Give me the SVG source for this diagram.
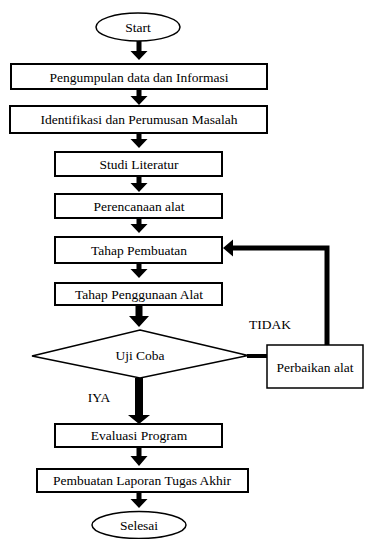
<svg xmlns="http://www.w3.org/2000/svg" width="365" height="539" viewBox="0 0 365 539">
<style>
.box{fill:#fff;stroke:#000;stroke-width:2}
.term{fill:#fff;stroke:#000;stroke-width:1.5}
.t{font-family:'Liberation Serif','Times New Roman',serif;font-size:13.5px;fill:#000;text-anchor:middle;dominant-baseline:central}
.arr{fill:#000}
</style>
<rect width="365" height="539" fill="#fff"/>
<g id="connectors" class="arr">
<path d="M136.5 41 h5 v10 h6 l-8.5 9 l-8.5 -9 h6 z"/>
<path d="M136.5 89 h5 v7 h6 l-8.5 9 l-8.5 -9 h6 z"/>
<path d="M136.5 133 h5 v6 h6 l-8.5 9 l-8.5 -9 h6 z"/>
<path d="M136.5 176 h5 v7 h6 l-8.5 9 l-8.5 -9 h6 z"/>
<path d="M136.5 218 h5 v6 h6 l-8.5 9 l-8.5 -9 h6 z"/>
<path d="M136.5 263 h5 v6 h6 l-8.5 9 l-8.5 -9 h6 z"/>
<path d="M135.5 305 h7 v11 h6.5 l-10 11 l-10 -11 h6.5 z"/>
<path d="M135 378 h8 v37 h7 l-11 9 l-11 -9 h7 z"/>
<path d="M136.5 447 h5 v9 h6 l-8.5 10 l-8.5 -10 h6 z"/>
<path d="M136.5 492 h5 v7 h6 l-8.5 9 l-8.5 -9 h6 z"/>
<rect x="247" y="354" width="21" height="4"/>
<path d="M329.5 345 h-5 v-94.5 h-91.5 v6 l-10 -8.5 l10 -8.5 v6 h96.5 z"/>
</g>
<g id="start"><ellipse class="term" cx="138" cy="27" rx="42" ry="14"/><text class="t" x="138" y="27" font-family="Liberation Serif">Start</text></g>
<g id="n1"><rect class="box" x="11" y="64" width="256" height="25"/><text class="t" x="139" y="77" font-family="Liberation Serif">Pengumpulan data dan Informasi</text></g>
<g id="n2"><rect class="box" x="10" y="106" width="257" height="27"/><text class="t" x="139" y="119.5" font-family="Liberation Serif">Identifikasi dan Perumusan Masalah</text></g>
<g id="n3"><rect class="box" x="55" y="152" width="167" height="24"/><text class="t" x="139" y="164" font-family="Liberation Serif">Studi Literatur</text></g>
<g id="n4"><rect class="box" x="55" y="194" width="167" height="24"/><text class="t" x="139" y="206" font-family="Liberation Serif">Perencanaan alat</text></g>
<g id="n5"><rect class="box" x="55" y="237" width="167" height="26"/><text class="t" x="139" y="250" font-family="Liberation Serif">Tahap Pembuatan</text></g>
<g id="n6"><rect class="box" x="55" y="283" width="167" height="22"/><text class="t" x="139" y="294" font-family="Liberation Serif">Tahap Penggunaan Alat</text></g>
<g id="decision"><polygon class="term" points="140,330 248,355.5 140,378 32,356"/><text class="t" x="140" y="355" font-family="Liberation Serif">Uji Coba</text></g>
<g id="fix"><rect class="term" x="267" y="345" width="96" height="43"/><text class="t" x="315" y="367" font-family="Liberation Serif">Perbaikan alat</text></g>
<text class="t" x="270" y="324" font-family="Liberation Serif">TIDAK</text>
<text class="t" x="99" y="397" font-family="Liberation Serif">IYA</text>
<g id="n7"><rect class="box" x="55" y="424" width="167" height="23"/><text class="t" x="139" y="435.5" font-family="Liberation Serif">Evaluasi Program</text></g>
<g id="n8"><rect class="box" x="37" y="469" width="211" height="23"/><text class="t" x="142" y="480.5" font-family="Liberation Serif">Pembuatan Laporan Tugas Akhir</text></g>
<g id="end"><ellipse class="term" cx="139" cy="525" rx="47" ry="13.5"/><text class="t" x="139" y="525" font-family="Liberation Serif">Selesai</text></g>
</svg>
